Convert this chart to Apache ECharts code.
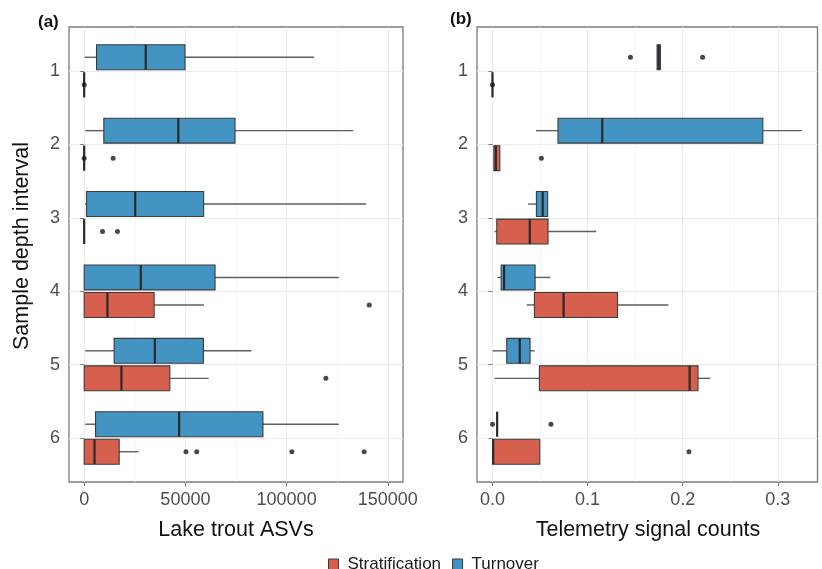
<!DOCTYPE html>
<html><head><meta charset="utf-8">
<script src="https://cdn.jsdelivr.net/npm/echarts@6/dist/echarts.min.js"></script>
<style>html,body{margin:0;padding:0;background:#fff}#c{width:822px;height:569px}</style>
</head><body><div id="c"></div>
<script>
// ---------------- data ----------------
const categories = [1, 2, 3, 4, 5, 6];
const groupNames = ['Stratification', 'Turnover'];
// each row: [whisker min, Q1, median, Q3, whisker max] for categories 1..6
const asvTurnover = [[200, 6100, 30400, 49800, 113500], [500, 9700, 46500, 74500, 132900], [500, 1150, 25200, 59000, 139300], [0, 0, 27970, 64650, 125800], [500, 14800, 34900, 58900, 82600], [500, 5600, 46900, 88300, 125800]];
const asvStrat = [[0, 0, 0, 0, 0], [0, 0, 0, 0, 0], [0, 0, 0, 0, 0], [0, 0, 11500, 34550, 59200], [0, 0, 18400, 42300, 61500], [0, 0, 5100, 17300, 26800]];
const asvTurnoverOut = [[], [], [], [], [], []];
const asvStratOut = [[0], [0, 14300], [9050, 16450], [140800], [119400], [50300, 55600, 102600, 138300]];

const telTurnover = [[0.1731, 0.1731, 0.1748, 0.1766, 0.1766], [0.0458, 0.0689, 0.1154, 0.2843, 0.3252], [0.0374, 0.0462, 0.0528, 0.058, 0.058], [0.0049, 0.0091, 0.0122, 0.0448, 0.0608], [0, 0.015, 0.0287, 0.0395, 0.0444], [0.0049, 0.0049, 0.0049, 0.0049, 0.0049]];
const telStrat = [[0, 0, 0, 0, 0], [0.0007, 0.0014, 0.0035, 0.0077, 0.0077], [0.0021, 0.0045, 0.0392, 0.0584, 0.1091], [0.036, 0.0441, 0.0748, 0.1315, 0.185], [0.0021, 0.0493, 0.2073, 0.2161, 0.229], [0, 0, 0.0007, 0.0497, 0.0497]];
const telTurnoverOut = [[0.1451, 0.221], [], [], [], [], [0, 0.0615]];
const telStratOut = [[0], [0.0514], [], [], [], [0.2066]];

const asvTicks = [0, 50000, 100000, 150000];
const asvMinor = [25000, 75000, 125000];
const telTicks = [0, 0.1, 0.2, 0.3];
const telMinor = [0.05, 0.15, 0.25];
const asvRange = [-7500, 157500];
const telRange = [-0.0163, 0.3418];

// ---------------- styling ----------------
const colors = { Stratification: '#D6604D', Turnover: '#4393C3' };
const offsets = { Stratification: 0.1875, Turnover: -0.1875 };
const HALF = 0.17;
const labelColor = '#4d4d4d';
const borderCol = '#7a7a7a';

function boxData(stats) {
  return stats.map((s, i) => [categories[i]].concat(s));
}
function outData(outs, off) {
  const r = [];
  outs.forEach((arr, i) => arr.forEach(v => r.push([v, categories[i] + off])));
  return r;
}
function makeRender(name) {
  const off = offsets[name];
  const fill = colors[name];
  return function (params, api) {
    const yc = api.value(0) + off;
    const vMin = api.value(1), q1 = api.value(2), med = api.value(3), q3 = api.value(4), vMax = api.value(5);
    const y1 = api.coord([q1, yc - HALF])[1];
    const y2 = api.coord([q1, yc + HALF])[1];
    const top = Math.min(y1, y2), h = Math.abs(y2 - y1);
    const ym = api.coord([q1, yc])[1];
    const xMin = api.coord([vMin, yc])[0];
    const xQ1 = api.coord([q1, yc])[0];
    const xMed = api.coord([med, yc])[0];
    const xQ3 = api.coord([q3, yc])[0];
    const xMax = api.coord([vMax, yc])[0];
    const wStyle = { stroke: '#5e5e5e', lineWidth: 1.4 };
    return {
      type: 'group',
      children: [
        { type: 'line', shape: { x1: xMin, y1: ym, x2: xQ1, y2: ym }, style: wStyle },
        { type: 'line', shape: { x1: xQ3, y1: ym, x2: xMax, y2: ym }, style: wStyle },
        { type: 'rect', shape: { x: xQ1, y: top, width: Math.max(xQ3 - xQ1, 0), height: h },
          style: { fill: fill, stroke: '#3c3c3c', lineWidth: 1.1 } },
        { type: 'line', shape: { x1: xMed, y1: top, x2: xMed, y2: top + h },
          style: { stroke: '#2a2a2a', lineWidth: 2.2 } }
      ]
    };
  };
}

function xAxes(gridIndex, range, ticks, minor) {
  return [{
    gridIndex: gridIndex, type: 'value', min: range[0], max: range[1],
    axisLine: { show: false },
    axisTick: { show: true, length: 4, customValues: ticks, lineStyle: { color: borderCol, width: 1 } },
    axisLabel: { customValues: ticks, fontSize: 18, color: labelColor, margin: 9, fontFamily: 'Liberation Sans, Arial, sans-serif',
      formatter: v => (range[1] < 1 ? v.toFixed(1) : String(v)) },
    splitLine: { show: true, lineStyle: { color: '#ebebeb', width: 1 } }
  }, {
    gridIndex: gridIndex, type: 'value', min: range[0], max: range[1],
    axisLine: { show: false },
    axisTick: { show: false, customValues: minor },
    axisLabel: { show: false },
    splitLine: { show: true, lineStyle: { color: '#f2f2f2', width: 0.8 } }
  }];
}
function yAxis(gridIndex) {
  return {
    gridIndex: gridIndex, type: 'value', inverse: true, min: 0.4, max: 6.6,
    axisLine: { show: false },
    axisTick: { show: true, length: 4, customValues: categories, lineStyle: { color: borderCol, width: 1 } },
    axisLabel: { customValues: categories, fontSize: 18, color: labelColor, margin: 9, fontFamily: 'Liberation Sans, Arial, sans-serif' },
    splitLine: { show: true, lineStyle: { color: '#ebebeb', width: 1 } }
  };
}

function panelSeries(gridIdx, turn, strat, turnOut, stratOut) {
  const xi = gridIdx * 2;
  const mk = (name, stats, outs) => ([{
    name: name, type: 'custom', xAxisIndex: xi, yAxisIndex: gridIdx,
    itemStyle: { color: colors[name], borderColor: '#3a3a3a' },
    renderItem: makeRender(name),
    encode: { x: [1, 2, 3, 4, 5], y: 0 },
    data: boxData(stats), silent: true, z: 2
  }, {
    name: name, type: 'scatter', xAxisIndex: xi, yAxisIndex: gridIdx,
    symbolSize: 5, itemStyle: { color: '#1a1a1a' }, data: outData(outs, offsets[name]),
    silent: true, z: 3
  }]);
  return mk('Stratification', strat, stratOut).concat(mk('Turnover', turn, turnOut));
}

const chart = echarts.init(document.getElementById('c'), null, { renderer: 'canvas' });
const font = 'Liberation Sans, Arial, sans-serif';
chart.setOption({
  animation: false,
  backgroundColor: '#ffffff',
  textStyle: { fontFamily: font },
  grid: [
    { left: 69, top: 27, width: 334, height: 455, show: true, borderColor: borderCol, borderWidth: 1.3, backgroundColor: '#fff' },
    { left: 477, top: 27, width: 340.5, height: 455, show: true, borderColor: borderCol, borderWidth: 1.3, backgroundColor: '#fff' }
  ],
  xAxis: xAxes(0, asvRange, asvTicks, asvMinor).concat(xAxes(1, telRange, telTicks, telMinor)),
  yAxis: [yAxis(0), yAxis(1)],
  legend: {
    data: groupNames, left: 323, top: 551, itemWidth: 10, itemHeight: 11, itemGap: 11, icon: 'rect',
    textStyle: { fontSize: 17, color: '#1a1a1a', fontFamily: font, padding: [0, 0, 0, 4] },
    itemStyle: { borderColor: '#3a3a3a', borderWidth: 1 }
  },
  graphic: [
    { type: 'text', left: 38, top: 14, style: { text: '(a)', font: 'bold 17px ' + font, fill: '#111' } },
    { type: 'text', left: 450, top: 11, style: { text: '(b)', font: 'bold 17px ' + font, fill: '#111' } },
    { type: 'text', x: 236, y: 530, style: { text: 'Lake trout ASVs', font: '21.5px ' + font, fill: '#111', align: 'center', verticalAlign: 'middle' } },
    { type: 'text', x: 648, y: 530, style: { text: 'Telemetry signal counts', font: '21.5px ' + font, fill: '#111', align: 'center', verticalAlign: 'middle' } },
    { type: 'text', x: 22, y: 246, rotation: Math.PI / 2, style: { text: 'Sample depth interval', font: '21.5px ' + font, fill: '#111', align: 'center', verticalAlign: 'middle' } }
  ],
  series: panelSeries(0, asvTurnover, asvStrat, asvTurnoverOut, asvStratOut)
    .concat(panelSeries(1, telTurnover, telStrat, telTurnoverOut, telStratOut))
});
</script>
</body></html>
